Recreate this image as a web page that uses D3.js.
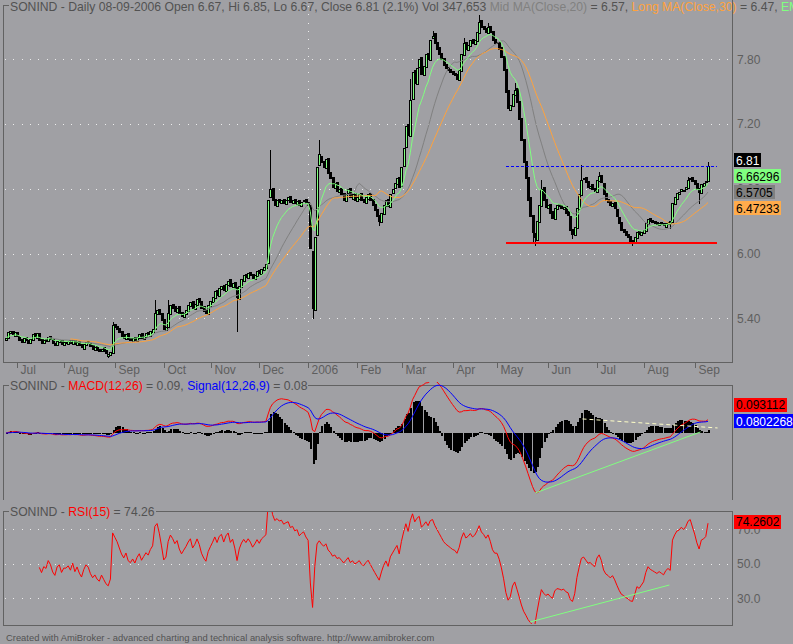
<!DOCTYPE html>
<html><head><meta charset="utf-8">
<script src="https://cdn.jsdelivr.net/npm/d3@7/dist/d3.min.js"></script>
<style>
html,body{margin:0;padding:0;background:#a0a0a4;}
svg{display:block;font-family:"Liberation Sans",Arial,sans-serif;}
</style></head><body>
<svg id="c" width="793" height="644"></svg>
<script>
// ---------------- DATA ----------------
const firstDay = new Date(2005, 5, 23), lastDay = new Date(2006, 8, 8);
const openP = [
 5.20,5.22,5.26,5.28,5.24,5.27,
 5.24,5.21,5.18,5.23,5.20,5.17,5.20,5.26,5.22,5.26,5.21,5.17,5.21,5.19,5.24,5.21,5.17,5.15,5.18,5.20,5.15,
 5.17,5.16,5.20,5.16,5.20,5.15,5.19,5.16,5.12,5.15,5.19,5.17,5.15,5.11,5.14,5.12,5.10,5.13,5.11,5.05,5.06,5.08,5.35,
 5.33,5.31,5.28,5.25,5.21,5.26,5.22,5.19,5.23,5.19,5.22,5.26,5.21,5.23,5.27,5.24,5.27,5.30,5.44,5.49,5.45,5.39,
 5.29,5.32,5.44,5.53,5.51,5.46,5.51,5.46,5.41,5.44,5.47,5.51,5.56,5.49,5.52,5.59,5.56,5.51,5.48,5.44,5.51,
 5.55,5.59,5.66,5.61,5.67,5.71,5.65,5.71,5.76,5.69,5.74,5.69,5.58,5.69,5.75,5.81,5.77,5.83,5.81,5.76,5.79,5.85,
 5.81,5.85,5.87,5.91,6.52,6.61,6.51,6.44,6.51,6.47,6.51,6.46,6.50,6.53,6.47,6.51,6.46,6.50,6.44,6.49,6.51,6.48,
 6.45,6.02,5.48,6.17,6.82,6.90,6.86,6.79,6.89,6.76,6.71,6.61,6.66,6.57,6.61,6.56,6.49,6.56,6.61,6.51,6.56,6.49,
 6.51,6.56,6.51,6.47,6.51,6.56,6.51,6.46,6.41,6.36,6.29,6.37,6.44,6.51,6.43,6.56,6.61,6.64,6.71,6.63,
 6.81,6.99,7.20,7.09,7.43,7.70,7.57,7.73,7.82,7.65,7.73,7.86,7.79,8.00,8.04,7.96,7.91,7.86,7.81,7.76,7.73,7.71,7.69,
 7.67,7.66,7.61,7.69,7.84,7.96,7.89,7.92,7.99,7.94,7.97,8.04,8.16,8.11,8.09,8.04,8.11,8.06,7.99,7.96,
 7.96,7.91,7.83,7.71,7.52,7.33,7.37,7.47,7.53,7.41,7.26,7.06,6.86,6.71,6.52,6.36,6.19,6.13,6.29,6.44,6.62,6.51,6.42,
 6.46,6.39,6.32,6.41,6.46,6.45,6.41,6.44,6.39,6.35,6.23,6.17,6.24,6.41,6.54,6.69,6.71,6.67,6.61,6.64,6.61,6.57,
 6.67,6.73,6.65,6.56,6.51,6.49,6.44,6.48,6.41,6.34,6.29,6.23,6.21,6.18,6.16,6.13,6.10,6.14,6.21,6.17,6.19,
 6.21,6.27,6.33,6.31,6.30,6.29,6.26,6.29,6.28,6.25,6.27,6.30,6.29,6.46,6.51,6.55,6.58,6.58,6.60,6.61,6.69,6.71,6.68,
 6.65,6.61,6.56,6.63,6.66,6.67
];
const closeP = [
 5.22,5.27,5.28,5.25,5.27,5.24,
 5.20,5.18,5.22,5.20,5.17,5.21,5.25,5.23,5.26,5.20,5.17,5.20,5.19,5.23,5.21,5.17,5.15,5.19,5.20,5.16,5.18,
 5.18,5.19,5.17,5.20,5.16,5.18,5.15,5.13,5.16,5.18,5.17,5.14,5.12,5.13,5.11,5.10,5.12,5.10,5.08,5.07,5.09,5.34,5.32,
 5.30,5.27,5.24,5.22,5.25,5.21,5.20,5.22,5.20,5.23,5.25,5.22,5.24,5.26,5.25,5.28,5.30,5.45,5.48,5.44,5.38,5.30,
 5.32,5.45,5.52,5.50,5.47,5.50,5.45,5.42,5.45,5.48,5.52,5.55,5.50,5.53,5.58,5.55,5.50,5.47,5.45,5.52,5.56,
 5.60,5.65,5.62,5.68,5.70,5.66,5.72,5.75,5.70,5.73,5.68,5.60,5.70,5.76,5.80,5.78,5.82,5.80,5.77,5.80,5.84,5.82,
 5.86,5.88,5.90,6.50,6.60,6.50,6.45,6.50,6.48,6.50,6.47,6.50,6.52,6.48,6.50,6.47,6.49,6.45,6.48,6.50,6.47,6.45,
 6.05,5.50,6.15,6.80,6.92,6.85,6.80,6.88,6.75,6.70,6.62,6.65,6.58,6.60,6.55,6.50,6.55,6.60,6.52,6.55,6.50,6.52,
 6.55,6.50,6.48,6.52,6.55,6.50,6.45,6.40,6.35,6.30,6.38,6.45,6.50,6.44,6.55,6.60,6.65,6.70,6.62,6.80,
 6.98,7.18,7.10,7.42,7.68,7.58,7.72,7.80,7.66,7.74,7.85,7.80,7.98,8.02,7.95,7.90,7.85,7.80,7.75,7.72,7.70,7.68,7.66,
 7.65,7.62,7.70,7.85,7.95,7.90,7.93,7.98,7.95,7.98,8.05,8.15,8.10,8.08,8.05,8.10,8.05,7.98,7.95,7.95,
 7.90,7.82,7.70,7.50,7.35,7.38,7.48,7.52,7.40,7.25,7.05,6.85,6.70,6.50,6.35,6.20,6.15,6.30,6.45,6.60,6.50,6.43,6.45,
 6.38,6.33,6.42,6.45,6.44,6.42,6.43,6.38,6.36,6.22,6.18,6.25,6.42,6.55,6.68,6.70,6.66,6.62,6.63,6.60,6.58,6.68,
 6.72,6.66,6.55,6.50,6.48,6.45,6.47,6.42,6.35,6.28,6.22,6.20,6.17,6.15,6.12,6.11,6.15,6.20,6.18,6.20,6.22,
 6.28,6.32,6.30,6.29,6.28,6.27,6.28,6.27,6.26,6.28,6.29,6.28,6.47,6.52,6.56,6.57,6.60,6.59,6.62,6.68,6.70,6.67,6.64,
 6.60,6.57,6.64,6.65,6.67,6.81
];
// shadows that stick out of the bodies: [bar index, price]
const highWicks = [[48,5.37],[67,5.57],[73,5.57],[119,6.96],[141,7.05],[182,7.62],[192,8.06],[206,8.0],[213,8.21],[217,8.14],[229,7.58],[241,6.68],[259,6.82],[267,6.76],[307,6.71],[316,6.85]];
const lowWicks  = [[46,5.04],[104,5.28],[138,5.40],[168,6.26],[237,6.10],[238,6.08],[255,6.14],[282,6.08],[312,6.47],[299,6.24]];

const monthNames = ["Jan","Feb","Mar","Apr","May","Jun","Jul","Aug","Sep","Oct","Nov","Dec"];
const priceTicks = [5.40, 6.00, 6.60, 7.20, 7.80];
const rsiTicks = [30, 50, 70];

const priceLabelVals = [6.81, 6.66296, 6.5705, 6.47233];
const priceLabelText = ["6.81", "6.66296", "6.5705", "6.47233"];
const macdLabelVals = [0.093112, 0.0802268];
const macdLabelText = ["0.093112", "0.0802268"];
const rsiLabelVals = [74.2602];
const rsiLabelText = ["74.2602"];

// user-drawn study lines: [bar0, value0, bar1, value1]
const priceHLines = [[225, 6.81, 320, 6.81], [225, 6.105, 320, 6.105]];
const macdTrendUp = [238.3, -0.405, 312.6, 0.007];
const macdTrendDown = [259.5, 0.095, 320.3, 0.034];
const rsiTrend = [236, 16.3, 298.6, 37.7];

const headerPrice = [
 ["SONIND - Daily 08-09-2006 Open 6.67, Hi 6.85, Lo 6.67, Close 6.81 (2.1%) Vol 347,653 ", "txt"],
 ["Mid MA(Close,20)", "mid"], [" = 6.57, ", "txt"],
 ["Long MA(Close,30)", "long"], [" = 6.47, ", "txt"],
 ["EMA(Close,10) = 6.66", "ema"]
];
const headerMacd = [["SONIND - ", "txt"], ["MACD(12,26)", "red"], [" = 0.09, ", "txt"], ["Signal(12,26,9)", "blue"], [" = 0.08", "txt"]];
const headerRsi = [["SONIND - ", "txt"], ["RSI(15)", "red"], [" = 74.26", "txt"]];
const footer = "Created with AmiBroker - advanced charting and technical analysis software. http://www.amibroker.com";

// ---------------- STYLE ----------------
const C = {bg:"#a0a0a4", txt:"#525252", axis:"#5e5e5e", frame:"#626262", grid:"#ececec",
  green:"#80ff80", mid:"#808080", long:"#ffa23c", ema:"#80ff80", red:"#ff0000", blue:"#0000ff"};

// ---------------- INDICATORS ----------------
function ema(a, n){ const k=2/(n+1); const r=[]; a.forEach((v,i)=>{ r.push(i===0? v : r[i-1]+k*(v-r[i-1])); }); return r; }
function sma(a, n){ return a.map((v,i)=> i<n-1? null : d3.mean(a.slice(i-n+1,i+1))); }
function rsi(a, n){
  const r=a.map(()=>null); let g=0,l=0;
  for(let i=1;i<a.length;i++){
    const ch=a[i]-a[i-1], up=Math.max(ch,0), dn=Math.max(-ch,0);
    if(i<=n){ g+=up/n; l+=dn/n; if(i===n) r[i]= l===0?100:100-100/(1+g/l); }
    else { g=(g*(n-1)+up)/n; l=(l*(n-1)+dn)/n; r[i]= l===0?100:100-100/(1+g/l); }
  }
  return r;
}
const N = closeP.length;
const highP = closeP.map((c,i)=>Math.max(c,openP[i]));
const lowP = closeP.map((c,i)=>Math.min(c,openP[i]));
highWicks.forEach(([i,v])=>highP[i]=Math.max(highP[i],v));
lowWicks.forEach(([i,v])=>lowP[i]=Math.min(lowP[i],v));
const ma20 = sma(closeP,20), ma30 = sma(closeP,30), ema10 = ema(closeP,10);
const e12 = ema(closeP,12), e26 = ema(closeP,26);
const macd = e12.map((v,i)=>v-e26[i]);
const signal = ema(macd,9);
const hist = macd.map((v,i)=>v-signal[i]);
const rsi15 = rsi(closeP,15);

const dates = d3.timeDays(firstDay, d3.timeDay.offset(lastDay,1)).filter(d=>d.getDay()!==0 && d.getDay()!==6);

// ---------------- SCALES ----------------
const xs = d3.scaleLinear().domain([0, N-1]).range([6, 708]);
const yP = d3.scaleLinear().domain([5.40, 7.80]).range([318.3, 59.3]);
const yM = d3.scaleLinear().domain([0, 0.1]).range([433, 418.2]);
const hMax = d3.max(hist, v=>Math.abs(v));
const yH = d3.scaleLinear().domain([0, hMax]).range([433, 433-40]);
const yR = d3.scaleLinear().domain([30, 70]).range([598.3, 529.3]);

const svg = d3.select("#c");
svg.append("rect").attr("width",793).attr("height",644).attr("fill",C.bg);
const defs = svg.append("defs");
function clip(id,x,y,w,h){ defs.append("clipPath").attr("id",id).append("rect").attr("x",x).attr("y",y).attr("width",w).attr("height",h); }
clip("cp",4,6,727,356); clip("cm",4,382,727,118); clip("cr",4,512,727,112);

const crisp = s => s.attr("shape-rendering","crispEdges");
function dotted(g,x1,x2,y){ crisp(g.append("line").attr("x1",x1).attr("x2",x2).attr("y1",Math.round(y)+0.5).attr("y2",Math.round(y)+0.5)
  .attr("stroke",C.grid).attr("stroke-width",1).attr("stroke-dasharray","1,7.3")); }

// ---------------- FRAMES & HEADERS ----------------
function header(parts, x, base){
  const t = svg.append("text").attr("x",x).attr("y",base).attr("font-size","12.2px");
  parts.forEach(([s,c])=>t.append("tspan").attr("fill",C[c]||C.txt).text(s));
  return t.node().getComputedTextLength();
}
function frame(top, bottom, textLen, bottomLine){
  const g = svg.append("g").attr("stroke",C.frame).attr("fill","none");
  crisp(g.append("path").attr("d",`M3.5,${bottom}V${top+0.5}H9`));
  if(textLen!==null) crisp(g.append("path").attr("d",`M${10+textLen+1},${top+0.5}H732.5`));
  crisp(g.append("path").attr("d",`M732.5,${top}V${bottom}`));
  if(bottomLine) crisp(g.append("path").attr("d",`M3,${bottom+0.5}H733`));
}
header(headerPrice, 10, 11);
frame(5, 362, null, true);
crisp(svg.append("path").attr("d","M732.5,0V362").attr("stroke",C.frame));
const lm = header(headerMacd, 10, 389.5);
frame(385, 500, lm, false);
const lr = header(headerRsi, 10, 515.5);
frame(511, 625, lr, true);

// ---------------- PRICE PANE ----------------
const gp = svg.append("g").attr("clip-path","url(#cp)");
priceTicks.forEach(v=>dotted(gp,5,731,yP(v)));
dates.forEach((d,i)=>{ if(i>0 && d.getFullYear()!==dates[i-1].getFullYear()){
  crisp(gp.append("line").attr("x1",Math.round(xs(i))-1.5).attr("x2",Math.round(xs(i))-1.5).attr("y1",6).attr("y2",362)
   .attr("stroke",C.grid).attr("stroke-dasharray","1,7.3")); } });
const gc = gp.append("g");
closeP.forEach((c,i)=>{
  const o=openP[i], x=Math.round(xs(i));
  crisp(gc.append("line").attr("x1",x+0.5).attr("x2",x+0.5).attr("y1",Math.round(yP(highP[i]))).attr("y2",Math.round(yP(lowP[i]))+1).attr("stroke","#000"));
  const top=Math.round(yP(Math.max(o,c))), bot=Math.max(Math.round(yP(Math.min(o,c))), top+1);
  crisp(gc.append("rect").attr("x",x-1).attr("y",top).attr("width",3).attr("height",bot-top+1).attr("fill","#000"));
  if(c>o && bot-top>=2) crisp(gc.append("rect").attr("x",x).attr("y",top+1).attr("width",1).attr("height",bot-top-1).attr("fill",C.green));
});
const lineP = d3.line().defined(v=>v!=null).x((v,i)=>xs(i)).y(v=>yP(v));
gp.append("path").datum(ma20).attr("d",lineP).attr("fill","none").attr("stroke",C.mid).attr("stroke-width",1);
gp.append("path").datum(ma30).attr("d",lineP).attr("fill","none").attr("stroke",C.long).attr("stroke-width",1);
gp.append("path").datum(ema10).attr("d",lineP).attr("fill","none").attr("stroke",C.ema).attr("stroke-width",1);
crisp(gp.append("line").attr("x1",xs(priceHLines[0][0])).attr("x2",xs(priceHLines[0][2])).attr("y1",Math.round(yP(priceHLines[0][1]))+0.5).attr("y2",Math.round(yP(priceHLines[0][3]))+0.5)
  .attr("stroke",C.blue).attr("stroke-dasharray","3,2"));
crisp(gp.append("line").attr("x1",xs(priceHLines[1][0])).attr("x2",xs(priceHLines[1][2])).attr("y1",Math.round(yP(priceHLines[1][1]))+0.5).attr("y2",Math.round(yP(priceHLines[1][3]))+0.5)
  .attr("stroke",C.red).attr("stroke-width",2));

priceTicks.forEach(v=>svg.append("text").attr("x",737).attr("y",yP(v)+4.3).attr("font-size","12px").attr("fill",C.axis).text(v.toFixed(2)));
dates.forEach((d,i)=>{
  if(i===0 || d.getMonth()===dates[i-1].getMonth()) return;
  const x = Math.round(xs(i))-1.5;
  crisp(svg.append("line").attr("x1",x).attr("x2",x).attr("y1",362).attr("y2",368).attr("stroke",C.frame));
  svg.append("text").attr("x",x+3).attr("y",373.5).attr("font-size","12px").attr("fill",C.axis)
    .text(d.getMonth()===0 ? String(d.getFullYear()) : monthNames[d.getMonth()]);
});

// ---------------- MACD PANE ----------------
const gm = svg.append("g").attr("clip-path","url(#cm)");
hist.forEach((h,i)=>{
  const y0=yH(0), y1 = h>=0 ? yH(h) : 2*yH(0)-yH(-h);
  crisp(gm.append("rect").attr("x",Math.round(xs(i))-0.5).attr("width",2).attr("y",Math.round(Math.min(y0,y1))).attr("height",Math.max(1,Math.round(Math.abs(y1-y0)))).attr("fill","#000"));
});
const lineM = d3.line().x((v,i)=>xs(i)).y(v=>yM(v));
gm.append("path").datum(macd).attr("d",lineM).attr("fill","none").attr("stroke",C.red).attr("stroke-width",1);
gm.append("path").datum(signal).attr("d",lineM).attr("fill","none").attr("stroke",C.blue).attr("stroke-width",1);
gm.append("line").attr("x1",xs(macdTrendUp[0])).attr("y1",yM(macdTrendUp[1])).attr("x2",xs(macdTrendUp[2])).attr("y2",yM(macdTrendUp[3])).attr("stroke",C.green);
gm.append("line").attr("x1",xs(macdTrendDown[0])).attr("y1",yM(macdTrendDown[1])).attr("x2",xs(macdTrendDown[2])).attr("y2",yM(macdTrendDown[3])).attr("stroke","#ffffc8").attr("stroke-dasharray","4,3");

// ---------------- RSI PANE ----------------
const gr = svg.append("g").attr("clip-path","url(#cr)");
rsiTicks.forEach(v=>dotted(gr,5,731,yR(v)));
gr.append("path").datum(rsi15).attr("d",d3.line().defined(v=>v!=null).x((v,i)=>xs(i)).y(v=>yR(v))).attr("fill","none").attr("stroke",C.red);
gr.append("line").attr("x1",xs(rsiTrend[0])).attr("y1",yR(rsiTrend[1])).attr("x2",xs(rsiTrend[2])).attr("y2",yR(rsiTrend[3])).attr("stroke",C.green);
rsiTicks.forEach(v=>svg.append("text").attr("x",737).attr("y",yR(v)+4.3).attr("font-size","12px").attr("fill",C.axis).text(v.toFixed(1)));

// ---------------- VALUE LABELS ----------------
function spread(ys, step){
  let cl = ys.map((y,k)=>({idx:[k], c:y}));
  let again = true;
  while(again){ again=false;
    for(let k=0;k<cl.length-1;k++){
      const a=cl[k], b=cl[k+1];
      if(a.c + a.idx.length*step/2 > b.c - b.idx.length*step/2){
        const idx=a.idx.concat(b.idx); cl.splice(k,2,{idx, c:d3.mean(idx,j=>ys[j])}); again=true; break; }
    }
  }
  const out=[]; cl.forEach(q=>q.idx.forEach((j,m)=>out[j]=q.c-(q.idx.length-1)*step/2+m*step)); return out;
}
function labels(vals, texts, scale, step, bgs, fgs, dy){
  const ys = spread(vals.map(v=>scale(v)), step);
  vals.forEach((v,k)=>{
    const g = svg.append("g");
    const r = g.append("rect").attr("fill",bgs[k]);
    const t = g.append("text").attr("x",736).attr("y",ys[k]+dy+4.5).attr("font-size","12px").attr("fill",fgs[k]).text(texts[k]);
    const w = t.node().getComputedTextLength();
    crisp(r.attr("x",734).attr("y",Math.round(ys[k]+dy-7)).attr("width",Math.round(w)+4).attr("height",14));
  });
}
labels(priceLabelVals, priceLabelText, yP, 16, ["#000",C.green,"#808080","#ffac4c"], ["#fff","#000","#000","#000"], -1.5);
labels(macdLabelVals, macdLabelText, yM, 16.5, [C.red,C.blue], ["#000","#fff"], -7);
labels(rsiLabelVals, rsiLabelText, yR, 16, [C.red], ["#000"], 0);

svg.append("text").attr("x",6).attr("y",641).attr("font-size","9.4px").attr("fill",C.txt).text(footer);
</script>
</body></html>
